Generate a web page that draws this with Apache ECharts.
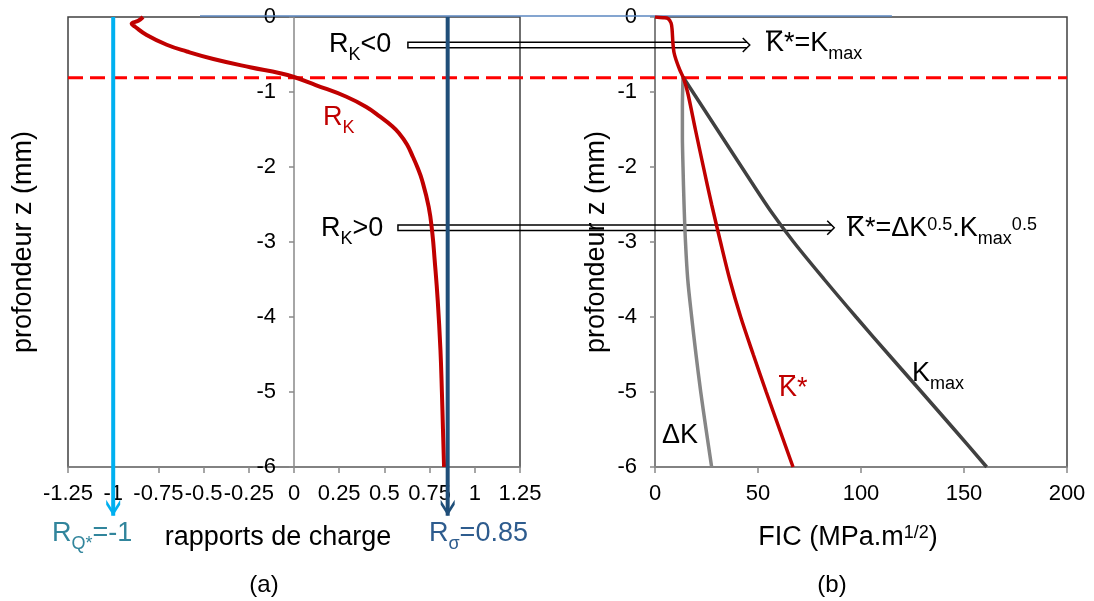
<!DOCTYPE html>
<html>
<head>
<meta charset="utf-8">
<script src="https://cdn.jsdelivr.net/npm/echarts@6/dist/echarts.min.js"></script>
<style>
  html, body { margin: 0; padding: 0; background: #fff; }
  #chart { width: 1094px; height: 601px; }
</style>
</head>
<body>
<div id="chart"></div>
<script>
// (a) load ratio R_K against depth z
const rkRatio = [-0.835, -0.861, -0.898, -0.879, -0.815, -0.704, -0.593, -0.446, -0.243, -0.077, 0.0, 0.12, 0.29, 0.40, 0.476, 0.54, 0.58, 0.625, 0.658, 0.682, 0.708, 0.745, 0.765, 0.778, 0.795, 0.81, 0.818, 0.824, 0.83]
const rkDepth = [0, -0.05, -0.09, -0.13, -0.24, -0.37, -0.46, -0.56, -0.67, -0.75, -0.80, -0.907, -1.063, -1.2, -1.329, -1.45, -1.547, -1.7, -1.867, -2.0, -2.173, -2.533, -2.88, -3.24, -3.78, -4.44, -5.0, -5.5, -6.0]

// (b) stress intensity factors against depth z
const kbarFic = [0, 4, 6.3, 7.8, 8.3, 8.7, 9.2, 10.2, 12.1, 13.6, 15.8, 19.6, 23.5, 27.5, 31.8, 36.3, 41.6, 47.7, 54.0, 60.5, 67.0]
const kbarDepth = [0, -0.01, -0.02, -0.08, -0.17, -0.35, -0.47, -0.57, -0.71, -0.80, -1.0, -1.5, -2.0, -2.5, -3.0, -3.5, -4.0, -4.5, -5.0, -5.5, -6.0]
const kmaxFic = [13.6, 30.2, 46.8, 56.5, 67.3, 82.2, 97.6, 113.4, 129.4, 145.3, 161]
const kmaxDepth = [-0.8, -1.5, -2.2, -2.6, -3.0, -3.5, -4.0, -4.5, -5.0, -5.5, -6.0]
const dkFic = [13.6, 13.3, 13.3, 13.6, 14.1, 14.8, 15.9, 17.8, 19.9, 22.2, 24.8, 27.5]
const dkDepth = [-0.8, -1.2, -1.6, -2.0, -2.5, -3.0, -3.5, -4.0, -4.5, -5.0, -5.5, -6.0]

// constant load ratios (vertical arrows) and the R_K = 0 depth
const rQ = -1
const rSigma = 0.85
const arrowTipDepth = -6.65
const zTransition = -0.81

// hollow arrows: start on the ratio axis, end on the FIC axis
const arrowDepth = [-0.373, -2.81]
const arrowStartRatio = [0.63, 0.575]
const arrowEndFic = [46, 87]

const font = 'Liberation Sans, Arial, sans-serif'
const axisGray = '#898989'
const zip = (xs, ys) => xs.map((x, i) => [x, ys[i]])

const chevron = 'path://M0,0 L7,11 L14,0 L14,5 L7,16 L0,5 Z'

function xAxisCfg(grid, min, max, step, name, padRight, rich) {
  return {
    gridIndex: grid, type: 'value', min: min, max: max, interval: step,
    axisLine: { onZero: false, lineStyle: { color: axisGray, width: 1.5 } },
    axisTick: { length: 6, lineStyle: { color: axisGray, width: 1.5 } },
    axisLabel: { color: '#000', fontSize: 22, margin: 16, fontFamily: font },
    splitLine: { show: false },
    name: name, nameLocation: 'middle', nameGap: 57,
    nameTextStyle: { color: '#000', fontSize: 27, fontFamily: font, padding: [0, padRight, 0, 0], rich: rich }
  }
}

function yAxisCfg(grid, gap) {
  return {
    gridIndex: grid, type: 'value', min: -6, max: 0, interval: 1,
    axisLine: { onZero: false, lineStyle: { color: axisGray, width: 1.5 } },
    axisTick: { length: 5, lineStyle: { color: axisGray, width: 1.5 } },
    axisLabel: { color: '#000', fontSize: 22, margin: 18, fontFamily: font },
    splitLine: { show: false },
    name: 'profondeur z (mm)', nameLocation: 'middle', nameGap: gap,
    nameTextStyle: { color: '#000', fontSize: 27, fontFamily: font }
  }
}

function arrowSeries(x, color) {
  return {
    type: 'line', xAxisIndex: 0, yAxisIndex: 0, clip: false, silent: true, z: 3,
    data: [
      { value: [x, 0], symbol: 'none' },
      { value: [x, arrowTipDepth], symbol: chevron, symbolSize: [14, 16], symbolOffset: [0, '-50%'] }
    ],
    lineStyle: { color: color, width: 4 },
    itemStyle: { color: color }
  }
}

const gridLeft = 68

const chart = echarts.init(document.getElementById('chart'))

chart.setOption({
  animation: false,
  backgroundColor: '#fff',
  grid: [
    { left: gridLeft, right: 574, top: 17, bottom: 134, show: true, borderColor: '#404040', borderWidth: 1.5, outerBoundsMode: 'none', containLabel: false },
    { left: 655, right: 27, top: 17, bottom: 134, show: true, borderColor: '#404040', borderWidth: 1.5, outerBoundsMode: 'none', containLabel: false }
  ],
  xAxis: [
    xAxisCfg(0, -1.25, 1.25, 0.25, 'rapports de charge', 32),
    xAxisCfg(1, 0, 200, 50, 'FIC (MPa.m{sup|1/2})', 26, {
      sup: { fontSize: 18, fontFamily: font, color: '#000', padding: [0, 0, 8, 0] }
    })
  ],
  yAxis: [yAxisCfg(0, 257), yAxisCfg(1, 45)],
  series: [
    {
      type: 'line', xAxisIndex: 0, yAxisIndex: 0, data: zip(rkRatio, rkDepth),
      smooth: 0.45, showSymbol: false, lineStyle: { color: '#c00000', width: 4 }
    },
    arrowSeries(rQ, '#00b0f0'),
    arrowSeries(rSigma, '#1f4e79'),
    {
      type: 'line', xAxisIndex: 1, yAxisIndex: 1, data: zip(dkFic, dkDepth),
      smooth: 0.3, showSymbol: false, lineStyle: { color: '#868686', width: 3.5 }
    },
    {
      type: 'line', xAxisIndex: 1, yAxisIndex: 1, data: zip(kmaxFic, kmaxDepth),
      smooth: 0.3, showSymbol: false, lineStyle: { color: '#404040', width: 3.5 }
    },
    {
      type: 'line', xAxisIndex: 1, yAxisIndex: 1, data: zip(kbarFic, kbarDepth),
      smooth: 0.3, showSymbol: false, lineStyle: { color: '#c00000', width: 3.5 }
    }
  ]
})

const px = (g, v) => chart.convertToPixel({ gridIndex: g }, v)

function richLabel(x, y, text, color, size) {
  size = size || 27
  return {
    type: 'text', x: x, y: y, z: 5,
    style: {
      text: text, fill: color, fontSize: size, fontFamily: font,
      align: 'left', verticalAlign: 'middle',
      rich: {
        sub: { fontSize: 18, fontFamily: font, fill: color, padding: [20, 0, 0, 0] },
        sup: { fontSize: 18, fontFamily: font, fill: color, padding: [0, 0, 8, 0] }
      }
    }
  }
}

function overbar(x, y, w, color) {
  return { type: 'line', z: 5, shape: { x1: x, y1: y, x2: x + w, y2: y }, style: { stroke: color, lineWidth: 2 } }
}

function hollowArrow(i) {
  const a = px(0, [arrowStartRatio[i], arrowDepth[i]])
  const b = px(1, [arrowEndFic[i], arrowDepth[i]])
  const y = a[1], sx = a[0], tx = b[0], h = 2.8
  return [
    { type: 'polyline', z: 1, shape: { points: [[tx - h, y - h], [sx, y - h], [sx, y + h], [tx - h, y + h]] },
      style: { stroke: '#000', lineWidth: 1.5, fill: null } },
    { type: 'polyline', z: 1, shape: { points: [[tx - 7, y - 7], [tx, y], [tx - 7, y + 7]] },
      style: { stroke: '#000', lineWidth: 1.5, fill: null } }
  ]
}

// left depth axis sits on ratio = 0
const zeroX = px(0, [0, 0])[0]
const dashA = px(0, [-1.25, zTransition])
const dashB = px(1, [200, zTransition])
const topA = px(0, [-0.52, 0])
const topB = px(1, [115, 0])

chart.setOption({
  yAxis: [{ offset: -(zeroX - gridLeft) }, {}],
  graphic: [
    { type: 'line', z: 1, shape: { x1: dashA[0], y1: dashA[1], x2: dashB[0], y2: dashB[1] },
      style: { stroke: '#ff0000', lineWidth: 3, lineDash: [15, 7] } },
    { type: 'line', z: 1, shape: { x1: topA[0], y1: topA[1] - 1, x2: topB[0], y2: topB[1] - 1 },
      style: { stroke: '#5b87c0', lineWidth: 1.5 } },
    ...hollowArrow(0),
    ...hollowArrow(1),
    richLabel(329, 45, 'R{sub|K}<0', '#000'),
    richLabel(323, 118, 'R{sub|K}', '#c00000'),
    richLabel(321, 229, 'R{sub|K}>0', '#000'),
    richLabel(766, 44, 'K*=K{sub|max}', '#000'),
    overbar(766, 31.5, 16, '#000'),
    richLabel(847, 229, 'K*=ΔK{sup|0.5}.K{sub|max}{sup|0.5}', '#000'),
    overbar(847, 217, 16, '#000'),
    richLabel(662, 436, 'ΔK', '#000'),
    richLabel(779, 389, 'K*', '#c00000'),
    overbar(779, 376, 16, '#c00000'),
    richLabel(912, 374, 'K{sub|max}', '#000'),
    richLabel(52, 534, 'R{sub|Q*}=-1', '#31859c'),
    richLabel(429, 534, 'R{sub|σ}=0.85', '#2e5c8e'),
    { type: 'text', x: 264, y: 585, style: { text: '(a)', fontSize: 24, fontFamily: font, fill: '#000', align: 'center', verticalAlign: 'middle' } },
    { type: 'text', x: 832, y: 585, style: { text: '(b)', fontSize: 24, fontFamily: font, fill: '#000', align: 'center', verticalAlign: 'middle' } }
  ]
})
</script>
</body>
</html>
